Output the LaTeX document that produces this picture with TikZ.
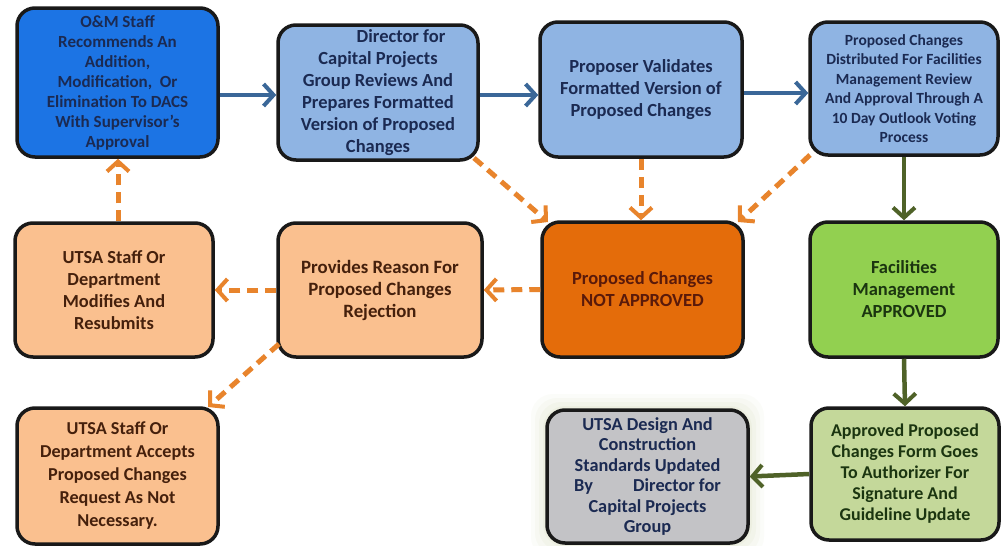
\documentclass[tikz,border=0pt]{standalone}
\usepackage{fontspec}
\setmainfont{Carlito}
\usetikzlibrary{arrows.meta,positioning}
\definecolor{bluebright}{HTML}{1C74E4}
\definecolor{bluelight}{HTML}{8FB4E3}
\definecolor{peach}{HTML}{FAC08F}
\definecolor{orangedark}{HTML}{E46C0A}
\definecolor{greenbright}{HTML}{92D050}
\definecolor{greenlight}{HTML}{C4D89A}
\definecolor{grayfill}{HTML}{C3C3C6}
\definecolor{navytext}{HTML}{1B2A52}
\definecolor{browntext}{HTML}{45200C}
\definecolor{redbrown}{HTML}{5A1A0A}
\definecolor{greentext}{HTML}{1B3510}
\definecolor{arrowblue}{HTML}{3A6798}
\definecolor{arroworange}{HTML}{E8842C}
\definecolor{arrowgreen}{HTML}{4F6228}
\definecolor{glow}{HTML}{C9D3A8}
\tikzset{
  box/.style={draw=black!90, line width=3.5pt, rounded corners=18pt, align=center,
    inner sep=1pt, font=\bfseries},
  txt/.style={font=\fontsize{#1}{22}\selectfont\bfseries},
  blueflow/.style={draw=arrowblue, line width=4.5pt, -{Straight Barb[length=10pt,width=22pt,line width=4pt]}},
  greenflow/.style={draw=arrowgreen, line width=4.5pt, -{Straight Barb[length=10pt,width=22pt,line width=4pt]}},
  rejflow/.style={draw=arroworange, line width=5pt, dash pattern=on 11pt off 7pt,
    -{Straight Barb[length=10pt,width=22pt,line width=4pt]}},
}
\begin{document}
\begin{tikzpicture}[x=1pt,y=-1pt]
\useasboundingbox[fill=white] (0,0) rectangle (1002,546);
% glow around the gray box
\foreach \g/\o in {16/0.06,12/0.08,8/0.1,4/0.12}{
  \fill[glow, opacity=\o, rounded corners=22pt] (547-\g,410-\g) rectangle (748+\g,543+\g);
}
% row 1
\node[box, fill=bluebright, text=navytext, minimum width=201pt, minimum height=149pt,
  font=\fontsize{17}{20}\selectfont\bfseries] (om) at (117.5,82.5)
  {O\&M Staff\\Recommends An\\Addition,\\Modification,\ \ Or\\Elimination To DACS\\With Supervisor's\\Approval};
\node[box, fill=bluelight, text=navytext, minimum width=200pt, minimum height=135pt,
  font=\fontsize{18.5}{22}\selectfont\bfseries] (dir) at (378,92.5)
  {\phantom{Direct}Director for\\Capital Projects\\Group Reviews And\\Prepares Formatted\\Version of Proposed\\Changes};
\node[box, fill=bluelight, text=navytext, minimum width=202pt, minimum height=135pt,
  font=\fontsize{18.5}{22}\selectfont\bfseries] (val) at (641,89.5)
  {Proposer Validates\\Formatted Version of\\Proposed Changes};
\node[box, fill=bluelight, text=navytext, minimum width=188pt, minimum height=133pt,
  font=\fontsize{15.5}{19.5}\selectfont\bfseries] (dist) at (904,88.5)
  {Proposed Changes\\Distributed For Facilities\\Management Review\\And Approval Through A\\10 Day Outlook Voting\\Process};
% row 2
\node[box, fill=peach, text=browntext, minimum width=198pt, minimum height=134pt, txt=18.4] (mod) at (114,290)
  {UTSA Staff Or\\Department\\Modifies And\\Resubmits};
\node[box, fill=peach, text=browntext, minimum width=204pt, minimum height=134pt, txt=18.8] (rsn) at (380,290)
  {Provides Reason For\\Proposed Changes\\Rejection};
\node[box, fill=orangedark, text=redbrown, minimum width=201pt, minimum height=135pt, txt=18.5] (na) at (642.5,289.5)
  {Proposed Changes\\NOT APPROVED};
\node[box, fill=greenbright, text=greentext, minimum width=188pt, minimum height=135pt, txt=18.5] (fac) at (904,289.5)
  {Facilities\\Management\\APPROVED};
% row 3
\node[box, fill=peach, text=browntext, minimum width=201pt, minimum height=136pt,
  font=\fontsize{18.2}{23}\selectfont\bfseries] (acc) at (117.5,476)
  {UTSA Staff Or\\Department Accepts\\Proposed Changes\\Request As Not\\Necessary.};
\node[box, fill=grayfill, text=navytext, minimum width=201pt, minimum height=133pt,
  font=\fontsize{18.3}{20.5}\selectfont\bfseries] (std) at (647.5,476.5)
  {UTSA Design And\\Construction\\Standards Updated\\By\hspace{2.2em}Director for\\Capital Projects\\Group};
\node[box, fill=greenlight, text=greentext, minimum width=188pt, minimum height=132pt,
  font=\fontsize{18}{21}\selectfont\bfseries] (apf) at (905,474)
  {Approved Proposed\\Changes Form Goes\\To Authorizer For\\Signature And\\Guideline Update};
% connectors
\draw[blueflow] (om.east |- 0,95) -- (dir.west |- 0,95);
\draw[blueflow] (dir.east |- 0,95) -- (val.west |- 0,95);
\draw[blueflow] (val.east |- 0,93) -- (dist.west |- 0,93);
\draw[greenflow] (dist.south) -- (fac.north);
\draw[greenflow] (fac.south) -- (apf.north);
\draw[greenflow] (apf.west) -- (std.east);
\coordinate (d1s) at (474,158); \coordinate (d1e) at (548,222);
\draw[rejflow] (d1s) -- (d1e);
\draw[rejflow] (val.south) -- (val.south |- na.north);
\coordinate (d3s) at (810,155); \coordinate (d3e) at (738,222);
\draw[rejflow] (d3s) -- (d3e);
\draw[rejflow] (na.west) -- (rsn.east);
\draw[rejflow] (rsn.west) -- (mod.east);
\draw[rejflow] (mod.north -| 118,0) -- (om.south -| 118,0);
\coordinate (d4s) at (279,344); \coordinate (d4e) at (208,407);
\draw[rejflow] (d4s) -- (d4e);
\end{tikzpicture}
\end{document}
